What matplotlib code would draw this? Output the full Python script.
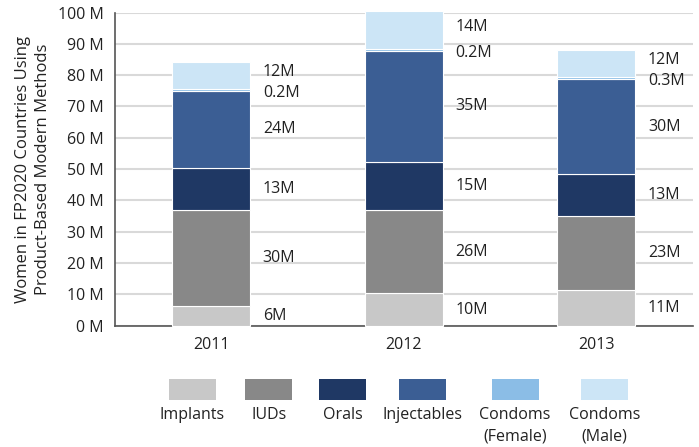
import numpy as np
import matplotlib.pyplot as plt
from matplotlib.patches import Rectangle

plt.rcParams['font.family'] = ['Open Sans', 'DejaVu Sans']

# ==============================================================================
# DATA (millions of women)
# ==============================================================================

years = ['2011', '2012', '2013']
methods = ['Implants', 'IUDs', 'Orals', 'Injectables', 'Condoms\n(Female)', 'Condoms\n(Male)']

implants = [6.3, 10.3, 11.3]
iuds = [30.5, 26.5, 23.6]
orals = [13.5, 15.6, 13.4]
injectables = [24.7, 35.4, 30.6]
condoms_female = [0.6, 0.6, 0.6]
condoms_male = [8.6, 12.0, 8.6]

implants_lbl = ['6M', '10M', '11M']
iuds_lbl = ['30M', '26M', '23M']
orals_lbl = ['13M', '15M', '13M']
injectables_lbl = ['24M', '35M', '30M']
female_lbl = ['0.2M', '0.2M', '0.3M']
male_lbl = ['12M', '14M', '12M']

yticks = [0, 10, 20, 30, 40, 50, 60, 70, 80, 90, 100]
ytick_labels = [f'{v} M' for v in yticks]

colors = ['#c8c8c8', '#888888', '#1f3864', '#3b5e94', '#8bbde6', '#cce5f6']
TXT = '#222222'

# ==============================================================================
# PLOT
# ==============================================================================

series = [implants, iuds, orals, injectables, condoms_female, condoms_male]
labels = [implants_lbl, iuds_lbl, orals_lbl, injectables_lbl, female_lbl, male_lbl]
# small nudges for the crowded condom labels (points)
nudge = [0, 0, 0, 0, -2.5, 2.5]

fig = plt.figure(figsize=(6.99, 4.47), dpi=100)
ax = fig.add_axes([0.1645, 0.2714, 0.8265, 0.7006])

x = np.arange(len(years))
width = 0.405
bottom = np.zeros(len(years))

for vals, col, lbls, dy in zip(series, colors, labels, nudge):
    vals = np.array(vals)
    ax.bar(x, vals, width, bottom=bottom, color=col, edgecolor='white',
           linewidth=0.8, zorder=3, clip_on=False)
    mids = bottom + vals / 2
    for xi, yi, t in zip(x, mids, lbls):
        ax.annotate(t, (xi + width / 2, yi), xytext=(9, dy), textcoords='offset points',
                    ha='left', va='center', fontsize=11.5, color=TXT)
    bottom = bottom + vals

ax.set_xlim(-0.5, 2.5)
ax.set_ylim(0, 100)
ax.set_yticks(yticks)
ax.set_yticklabels(ytick_labels, fontsize=11.5, color=TXT)
ax.set_xticks(x)
ax.set_xticklabels(years, fontsize=11.5, color=TXT)
ax.tick_params(length=0, pad=8)
ax.yaxis.grid(True, color='#d9d9d9', linewidth=1.5, zorder=0)
ax.set_axisbelow(True)
for s in ['top', 'right']:
    ax.spines[s].set_visible(False)
for s in ['left', 'bottom']:
    ax.spines[s].set_color('#555555')
    ax.spines[s].set_linewidth(1.2)

ax.set_ylabel('Women in FP2020 Countries Using\nProduct-Based Modern Methods',
              fontsize=12, color=TXT, linespacing=1.3, labelpad=5)

# legend drawn by hand: swatches with captions underneath
leg_centers = [192, 269, 342.5, 422.5, 515, 604.5]
for cx, col, name in zip(leg_centers, colors, methods):
    fig.patches.append(Rectangle(((cx - 23.5) / 699, 1 - 400 / 447), 47 / 699, 21 / 447,
                                 transform=fig.transFigure, facecolor=col, edgecolor='none'))
    fig.text(cx / 699, 1 - 407 / 447, name, ha='center', va='top', fontsize=11.5,
             color=TXT, linespacing=1.45)

fig.savefig('out.png', dpi=100)
